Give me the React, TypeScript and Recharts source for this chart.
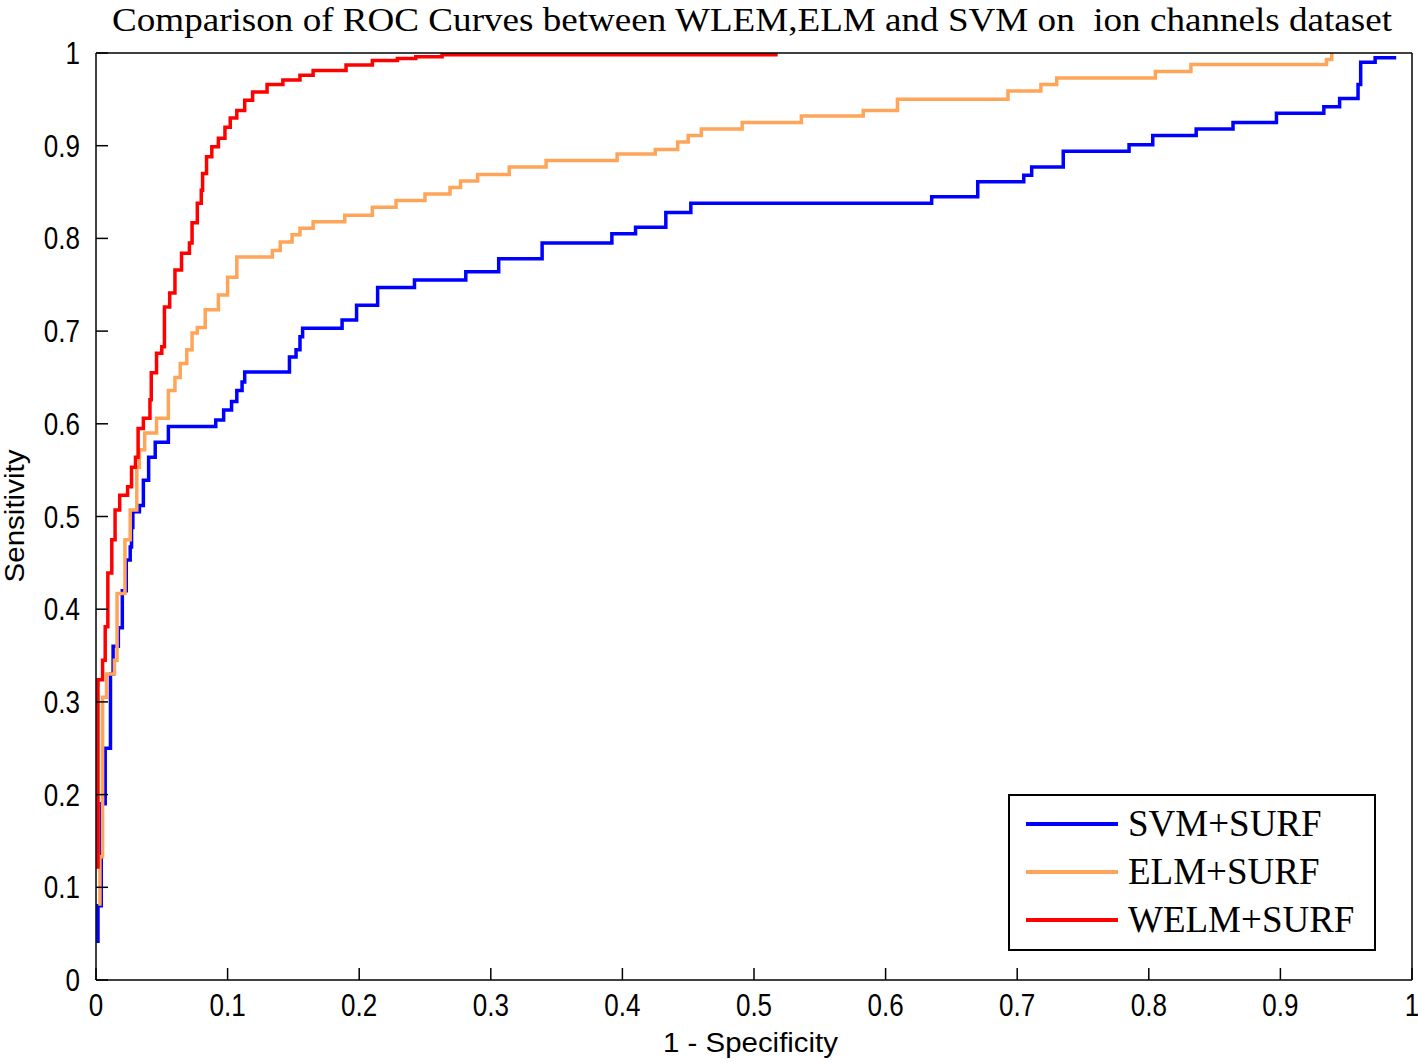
import { LineChart, Line, XAxis, YAxis, Legend } from 'recharts';

// ROC points: [1 - specificity, sensitivity]
const svmPoints = [
  [0.0015, 0.04], [0.0015, 0.08], [0.004, 0.17], [0.004, 0.19], [0.007, 0.22], [0.007, 0.25],
  [0.011, 0.28], [0.011, 0.33], [0.013, 0.36], [0.017, 0.38], [0.02, 0.42], [0.023, 0.453],
  [0.026, 0.467], [0.027, 0.488], [0.028, 0.505], [0.033, 0.512], [0.036, 0.539], [0.04, 0.564],
  [0.045, 0.58], [0.055, 0.597], [0.091, 0.604], [0.097, 0.615], [0.103, 0.624], [0.107, 0.636],
  [0.111, 0.645], [0.113, 0.656], [0.147, 0.672], [0.152, 0.68], [0.155, 0.694], [0.157, 0.703],
  [0.187, 0.712], [0.198, 0.728], [0.214, 0.747], [0.242, 0.755], [0.281, 0.764], [0.306, 0.778],
  [0.339, 0.795], [0.392, 0.805], [0.41, 0.812], [0.433, 0.828], [0.452, 0.838], [0.635, 0.845],
  [0.67, 0.861], [0.705, 0.868], [0.711, 0.877], [0.735, 0.894], [0.785, 0.901], [0.803, 0.911],
  [0.836, 0.918], [0.864, 0.925], [0.897, 0.935], [0.933, 0.942], [0.945, 0.951], [0.959, 0.966],
  [0.961, 0.99], [0.972, 0.995], [0.988, 0.995],
];

const elmPoints = [
  [0.003, 0.08], [0.003, 0.133], [0.005, 0.25], [0.005, 0.305], [0.008, 0.33], [0.014, 0.345],
  [0.016, 0.417], [0.022, 0.475], [0.026, 0.507], [0.031, 0.553], [0.033, 0.572], [0.037, 0.59],
  [0.046, 0.606], [0.055, 0.636], [0.06, 0.65], [0.064, 0.665], [0.069, 0.68], [0.073, 0.698],
  [0.077, 0.704], [0.083, 0.723], [0.093, 0.739], [0.1, 0.758], [0.107, 0.78], [0.134, 0.787],
  [0.14, 0.796], [0.149, 0.804], [0.155, 0.811], [0.165, 0.818], [0.189, 0.825], [0.21, 0.8335],
  [0.228, 0.841], [0.25, 0.848], [0.269, 0.855], [0.277, 0.862], [0.29, 0.869], [0.314, 0.877],
  [0.342, 0.884], [0.396, 0.891], [0.425, 0.896], [0.442, 0.904], [0.45, 0.911], [0.46, 0.918],
  [0.491, 0.925], [0.536, 0.932], [0.583, 0.938], [0.609, 0.95], [0.693, 0.959], [0.718, 0.966],
  [0.73, 0.973], [0.805, 0.98], [0.832, 0.9875], [0.935, 0.993], [0.939, 1.0],
];

const welmPoints = [
  [0.0015, 0.12], [0.0015, 0.324], [0.005, 0.334], [0.005, 0.345], [0.007, 0.381], [0.009, 0.439],
  [0.012, 0.475], [0.0145, 0.507], [0.018, 0.523], [0.024, 0.532], [0.027, 0.553], [0.03, 0.564],
  [0.032, 0.595], [0.036, 0.606], [0.041, 0.626], [0.042, 0.655], [0.046, 0.676], [0.05, 0.683],
  [0.052, 0.726], [0.056, 0.741], [0.06, 0.766], [0.065, 0.784], [0.071, 0.795], [0.073, 0.817],
  [0.077, 0.838], [0.08, 0.852], [0.081, 0.87], [0.084, 0.888], [0.088, 0.899], [0.093, 0.908],
  [0.098, 0.92], [0.102, 0.93], [0.107, 0.938], [0.113, 0.949], [0.119, 0.958], [0.13, 0.966],
  [0.142, 0.971], [0.155, 0.976], [0.165, 0.981], [0.19, 0.987], [0.21, 0.992], [0.229, 0.994],
  [0.243, 0.996], [0.263, 0.998], [0.518, 0.998],
];

const xTicks = [0, 0.1, 0.2, 0.3, 0.4, 0.5, 0.6, 0.7, 0.8, 0.9, 1];
const yTicks = [0, 0.1, 0.2, 0.3, 0.4, 0.5, 0.6, 0.7, 0.8, 0.9, 1];

const series = [
  { name: 'SVM+SURF', color: '#0000ff', points: svmPoints },
  { name: 'ELM+SURF', color: '#ffa55a', points: elmPoints },
  { name: 'WELM+SURF', color: '#ff0000', points: welmPoints },
];

const title = 'Comparison of ROC Curves between WLEM,ELM and SVM on  ion channels dataset';

const fmt = (v: number) => String(+v.toFixed(1));

const XTick = ({ x, y, payload }: any) => (
  <text
    transform={`translate(${x},${y + 36}) scale(0.84,1)`}
    textAnchor="middle"
    fontFamily="'Liberation Sans', Arial, sans-serif"
    fontSize={31}
    fill="#000"
  >
    {fmt(payload.value)}
  </text>
);

const YTick = ({ x, y, payload }: any) => (
  <text
    transform={`translate(${x - 16},${y + 11}) scale(0.84,1)`}
    textAnchor="end"
    fontFamily="'Liberation Sans', Arial, sans-serif"
    fontSize={31}
    fill="#000"
  >
    {fmt(payload.value)}
  </text>
);

const LegendBox = () => (
  <div
    style={{
      position: 'relative',
      width: 368,
      height: 157,
      boxSizing: 'border-box',
      border: '2px solid #000',
      background: '#fff',
    }}
  >
    {series.map((s, i) => (
      <div key={s.name} style={{ position: 'absolute', left: 0, top: 28 + i * 48, height: 0 }}>
        <div
          style={{
            position: 'absolute',
            left: 16,
            top: -2,
            width: 92,
            height: 4,
            background: s.color,
          }}
        />
        <span
          style={{
            position: 'absolute',
            left: 118,
            top: -21,
            whiteSpace: 'nowrap',
            fontFamily: "'Liberation Serif', 'Times New Roman', serif",
            fontSize: 37,
            lineHeight: '42px',
            color: '#000',
          }}
        >
          {s.name}
        </span>
      </div>
    ))}
  </div>
);

export default function App() {
  return (
    <div style={{ position: 'absolute', left: 0, top: 0, width: 1418, height: 1063, background: '#fff' }}>
      <LineChart width={1418} height={1063} margin={{ top: 52, right: 5, left: 0, bottom: 0 }}>
        <XAxis
          dataKey="x"
          type="number"
          domain={[0, 1]}
          ticks={xTicks}
          height={83}
          stroke="#000"
          strokeWidth={1.5}
          tickSize={-12}
          tickMargin={12}
          tick={<XTick />}
          allowDataOverflow
        />
        <XAxis
          xAxisId="top"
          orientation="top"
          type="number"
          domain={[0, 1]}
          ticks={xTicks}
          height={1}
          stroke="#000"
          strokeWidth={1.5}
          tickSize={-12}
          tick={false}
        />
        <YAxis
          type="number"
          domain={[0, 1]}
          ticks={yTicks}
          width={96}
          stroke="#000"
          strokeWidth={1.5}
          tickSize={-12}
          tickMargin={12}
          tick={<YTick />}
          allowDataOverflow
        />
        <YAxis
          yAxisId="right"
          orientation="right"
          type="number"
          domain={[0, 1]}
          ticks={yTicks}
          width={1}
          stroke="#000"
          strokeWidth={1.5}
          tickSize={-12}
          tick={false}
        />
        {series.map((s) => (
          <Line
            key={s.name}
            name={s.name}
            data={s.points.map(([x, y]) => ({ x, y }))}
            dataKey="y"
            type="stepAfter"
            stroke={s.color}
            strokeWidth={3.5}
            dot={false}
            activeDot={false}
            isAnimationActive={false}
          />
        ))}
        <Legend
          layout="vertical"
          align="center"
          verticalAlign="middle"
          content={() => <LegendBox />}
          wrapperStyle={{ left: 1008, top: 794, width: 368, height: 157 }}
        />
      </LineChart>
      <svg
        width={1418}
        height={1063}
        style={{ position: 'absolute', left: 0, top: 0, pointerEvents: 'none' }}
      >
        <text
          x={112}
          y={31}
          fontFamily="'Liberation Serif', 'Times New Roman', serif"
          fontSize={34}
          textLength={1280}
          lengthAdjust="spacingAndGlyphs"
          fill="#000"
          style={{ whiteSpace: 'pre' }}
        >
          {title}
        </text>
        <text
          transform="translate(24,516) rotate(-90)"
          textAnchor="middle"
          fontFamily="'Liberation Sans', Arial, sans-serif"
          fontSize={27}
          textLength={133}
          lengthAdjust="spacingAndGlyphs"
          fill="#000"
        >
          Sensitivity
        </text>
        <text
          x={663}
          y={1052}
          fontFamily="'Liberation Sans', Arial, sans-serif"
          fontSize={27}
          textLength={175}
          lengthAdjust="spacingAndGlyphs"
          fill="#000"
        >
          1 - Specificity
        </text>
      </svg>
    </div>
  );
}
